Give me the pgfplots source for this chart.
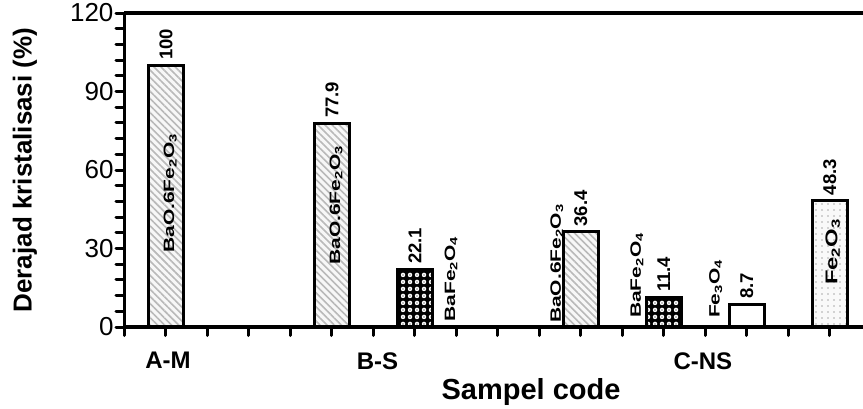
\documentclass[border=0pt]{standalone}
\usepackage{pgfplots}
\pgfplotsset{compat=1.18}
\usetikzlibrary{patterns,patterns.meta}
\usepackage{fontspec}
\setmainfont{Liberation Sans}
\newfontfamily\stretchfont[FakeStretch=1.4]{Liberation Sans}
\begin{document}
\begin{tikzpicture}
\useasboundingbox (0,0) rectangle (863pt,408pt);
\begin{axis}[
  at={(124.5pt,81pt)}, anchor=south west,
  scale only axis, width=738.5pt, height=314pt,
  xmin=0, xmax=17.8, ymin=0, ymax=120,
  axis x line=bottom, axis y line=left,
  axis line style={-, line width=3.5pt},
  xtick={0,1,...,17}, xticklabels={},
  ytick={0,30,60,90,120}, minor ytick={6,12,18,24,36,42,48,54,66,72,78,84,96,102,108,114},
  tick align=outside, major tick length=8.5pt, minor tick length=8.5pt,
  every tick/.style={black, line width=3pt, line cap=round},
  /pgf/number format/assume math mode=true,
  yticklabel style={font=\fontsize{26}{26}\selectfont, xshift=1pt},
  clip=false, axis on top,
  every node near coord/.append style={rotate=90, anchor=west, inner sep=4pt,
     font=\fontsize{18.5}{18.5}\selectfont\bfseries, black},
]
% BaO.6Fe2O3
\addplot[ybar, bar width=0.85, bar shift=0pt, draw=black, line width=2.8pt,
  preaction={fill=gray!6}, pattern={Lines[angle=-45,distance=5pt,line width=1.6pt]}, pattern color=gray!55,
  nodes near coords] coordinates {(1,100) (5,77.9) (11,36.4)};
% BaFe2O4
\addplot[ybar, bar width=0.85, bar shift=0pt, draw=black, line width=2.8pt,
  preaction={fill=black},
  preaction={pattern={Dots[distance=6.5pt,radius=2.4pt]}, pattern color=white},
  pattern={Dots[distance=6.5pt,radius=1.2pt]}, pattern color=gray!60,
  nodes near coords] coordinates {(7,22.1) (13,11.4)};
% Fe3O4
\addplot[ybar, bar width=0.85, bar shift=0pt, draw=black, line width=2.8pt, fill=white,
  nodes near coords] coordinates {(15,8.7)};
% Fe2O3
\addplot[ybar, bar width=0.85, bar shift=0pt, draw=black, line width=2.8pt,
  preaction={fill=gray!5}, pattern={Dots[distance=6pt,radius=0.9pt]}, pattern color=gray!65,
  nodes near coords] coordinates {(17,48.3)};

\draw[line width=3.5pt] (rel axis cs:0,1) -- (rel axis cs:1,1);

\tikzset{phase/.style={rotate=90, anchor=west, inner sep=0pt, font=\stretchfont\fontsize{15}{15}\selectfont\bfseries}}
\node[phase] at (axis cs:1.1,28.3) {BaO.6Fe\textsubscript{2}O\textsubscript{3}};
\node[phase] at (axis cs:5.1,23.7) {BaO.6Fe\textsubscript{2}O\textsubscript{3}};
\node[phase] at (axis cs:7.87,2) {BaFe\textsubscript{2}O\textsubscript{4}};
\node[phase] at (axis cs:10.42,1.5) {BaO.6Fe\textsubscript{2}O\textsubscript{3}};
\node[phase] at (axis cs:12.35,3.4) {BaFe\textsubscript{2}O\textsubscript{4}};
\node[phase] at (axis cs:14.25,3.4) {Fe\textsubscript{3}O\textsubscript{4}};
\node[phase, font=\stretchfont\fontsize{17}{17}\selectfont\bfseries] at (axis cs:17.07,16) {Fe\textsubscript{2}O\textsubscript{3}};

\tikzset{cat/.style={font=\fontsize{24}{24}\selectfont\bfseries}}
\node[cat] at ([yshift=-33pt]axis cs:1.05,0) {A-M};
\node[cat] at ([yshift=-34pt]axis cs:6.1,0) {B-S};
\node[cat] at ([yshift=-34pt]axis cs:13.94,0) {C-NS};
\node[font=\fontsize{29}{29}\selectfont\bfseries] at ([yshift=-65pt]axis cs:9.8,0) {Sampel code};
\node[rotate=90, font=\fontsize{26}{26}\selectfont\bfseries] at ([xshift=-99.5pt]rel axis cs:0,0.5) {Derajad kristalisasi (\%)};
\end{axis}
\end{tikzpicture}
\end{document}
